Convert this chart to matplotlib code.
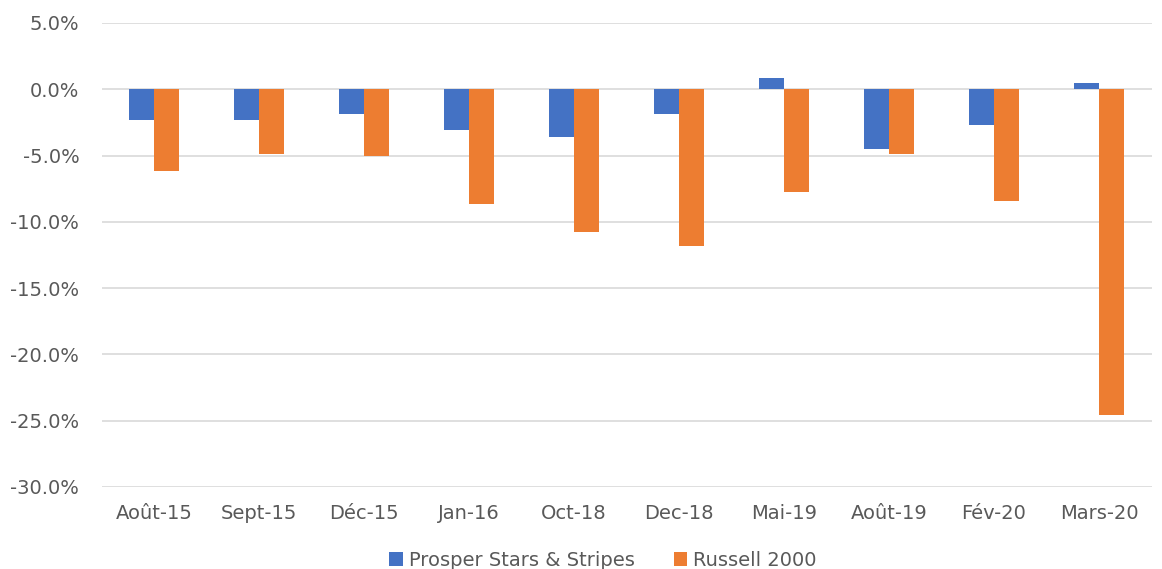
import numpy as np
import matplotlib.pyplot as plt
from matplotlib.ticker import FuncFormatter

# Data (percent)
categories = ['Août-15', 'Sept-15', 'Déc-15', 'Jan-16', 'Oct-18',
              'Dec-18', 'Mai-19', 'Août-19', 'Fév-20', 'Mars-20']
prosper = [-2.3, -2.3, -1.9, -3.1, -3.6, -1.9, 0.85, -4.5, -2.7, 0.5]
russell = [-6.2, -4.9, -5.0, -8.65, -10.8, -11.8, -7.75, -4.9, -8.4, -24.6]
series_names = ['Prosper Stars & Stripes', 'Russell 2000']

plt.rcParams['font.family'] = ['DejaVu Sans']
text_color = '#595959'

fig = plt.figure(figsize=(11.62, 5.69), dpi=100)
ax = fig.add_axes([101.5 / 1162, 1 - 487 / 569, 1050 / 1162, (487 - 23) / 569])

x = np.arange(len(categories))
w = 0.24
ax.bar(x - w / 2, prosper, w, color='#4472C4', label=series_names[0], zorder=3)
ax.bar(x + w / 2, russell, w, color='#ED7D31', label=series_names[1], zorder=3)

ax.set_xlim(-0.5, len(categories) - 0.5)
ax.set_ylim(-30, 5)
ax.set_yticks(np.arange(-30, 5.1, 5))
ax.yaxis.set_major_formatter(FuncFormatter(lambda v, p: f'{v:.1f}%'))
ax.set_xticks(x)
ax.set_xticklabels(categories)

ax.grid(axis='y', color='#D9D9D9', linewidth=1.2, zorder=0)
for s in ax.spines.values():
    s.set_visible(False)
ax.tick_params(axis='both', length=0, labelsize=14, colors=text_color)
ax.tick_params(axis='y', pad=16)
ax.tick_params(axis='x', pad=12)

fig.legend(loc='center', bbox_to_anchor=(603 / 1162, 1 - 560 / 569), ncol=2,
           frameon=False, fontsize=14, labelcolor=text_color,
           handlelength=0.7, handleheight=0.7, handletextpad=0.3,
           columnspacing=2.0)

fig.savefig('out.png', dpi=100)
